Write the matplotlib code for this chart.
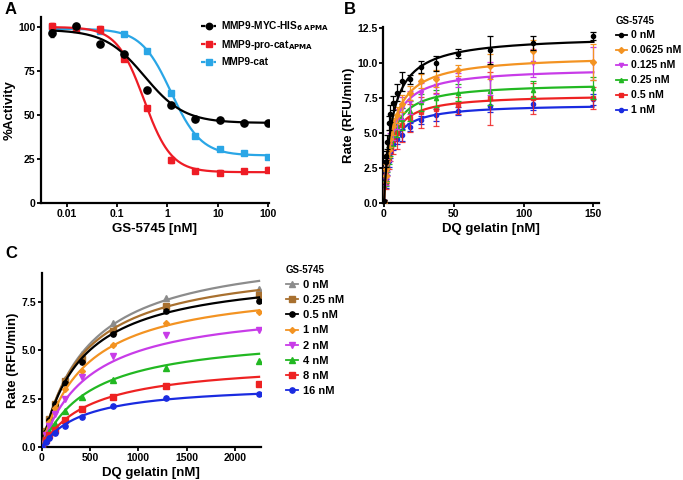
import numpy as np
import matplotlib
matplotlib.use("Agg")
import matplotlib.pyplot as plt
from matplotlib.lines import Line2D

plt.rcParams['font.family'] = ['Liberation Sans', 'DejaVu Sans']
plt.rcParams['font.weight'] = 'bold'

# ---------------- Panel A data ----------------
A_x = [0.005, 0.015, 0.045, 0.135, 0.4, 1.2, 3.6, 11, 33, 100]
A_labels = ["MMP9-MYC-HIS$_{\\mathbf{6\\ APMA}}$", "MMP9-pro-cat$_{\\mathbf{APMA}}$", "MMP9-cat"]
A_black = [96.5, 100.4, 90.5, 84.6, 64.3, 55.6, 47.6, 47.4, 45.4, 45.5]
A_black_err = [2.0, 0.8, 0.8, 1.0, 1.0, 1.0, 0.8, 0.8, 0.8, 0.8]
A_red = [100.5, 99.0, 98.6, 81.6, 53.9, 24.5, 18.4, 17.1, 18.2, 18.8]
A_red_err = [1.8, 1.0, 1.8, 1.0, 1.2, 1.5, 1.2, 1.4, 1.0, 1.4]
A_blue = [100.0, 99.5, 98.0, 95.8, 86.5, 62.6, 38.1, 30.7, 28.5, 26.4]
A_blue_err = [0.5, 0.5, 0.5, 0.6, 0.8, 0.8, 0.8, 0.8, 0.8, 0.8]
# 4-parameter logistic fit parameters: top, bottom, IC50, hill
A_fit_black = [98.5, 45.5, 0.35, 1.1]
A_fit_red = [100.0, 17.5, 0.34, 1.6]
A_fit_blue = [99.0, 27.0, 1.18, 1.45]
A_xticks = [0.01, 0.1, 1, 10, 100]
A_xticklabels = ["0.01", "0.1", "1", "10", "100"]

# ---------------- Panel B data ----------------
B_x = [0, 1.17, 1.66, 2.34, 3.31, 4.69, 6.63, 9.38, 13.3, 18.8, 26.5, 37.5, 53, 76, 107, 150]
B_labels = ["0 nM", "0.0625 nM", "0.125 nM", "0.25 nM", "0.5 nM", "1 nM"]
B_black = [0.15, 2.9, 3.4, 4.4, 5.7, 6.4, 7.15, 7.9, 8.7, 8.85, 9.75, 10.0, 10.7, 10.95, 11.45, 11.95]
B_black_err = [0.1, 0.3, 0.3, 0.5, 0.5, 0.6, 0.5, 0.6, 0.65, 0.3, 0.45, 0.55, 0.35, 1.0, 0.5, 0.3]
B_orange = [0.1, 1.9, 2.4, 3.0, 3.8, 4.6, 5.5, 6.3, 7.1, 7.9, 8.7, 8.9, 9.5, 9.8, 10.9, 10.1]
B_orange_err = [0.1, 0.4, 0.4, 0.5, 0.5, 0.6, 0.6, 0.6, 0.6, 0.5, 0.5, 0.6, 0.4, 0.9, 0.8, 1.3]
B_magenta = [0.1, 1.7, 2.2, 2.8, 3.6, 4.4, 5.2, 6.0, 6.8, 7.2, 7.9, 8.4, 8.8, 8.9, 10.0, 10.0]
B_magenta_err = [0.1, 0.4, 0.4, 0.5, 0.6, 0.6, 0.7, 0.7, 0.8, 0.8, 0.7, 0.6, 0.5, 1.2, 1.0, 1.2]
B_green = [0.1, 1.6, 2.1, 2.7, 3.4, 4.1, 4.9, 5.5, 6.0, 6.6, 7.2, 7.5, 7.9, 8.04, 8.1, 8.25]
B_green_err = [0.1, 0.4, 0.5, 0.5, 0.6, 0.7, 0.8, 0.8, 0.8, 0.7, 0.6, 0.6, 0.6, 1.0, 0.6, 0.8]
B_red = [0.1, 1.5, 2.0, 2.6, 3.2, 3.9, 4.5, 5.0, 5.6, 6.1, 6.5, 6.7, 7.0, 7.5, 7.5, 7.5]
B_red_err = [0.1, 0.5, 0.6, 0.7, 0.8, 0.9, 1.0, 1.1, 1.2, 1.0, 1.1, 1.2, 0.6, 1.9, 1.1, 0.8]
B_blue = [0.15, 1.4, 1.9, 2.4, 3.0, 3.6, 4.2, 4.6, 4.87, 5.42, 5.94, 6.3, 6.58, 6.94, 7.07, 7.42]
B_blue_err = [0.1, 0.3, 0.3, 0.4, 0.4, 0.4, 0.4, 0.4, 0.4, 0.3, 0.3, 0.4, 0.3, 0.4, 0.4, 0.4]
# Michaelis-Menten fit parameters: Vmax, Km
B_fit = [[12.0, 6.0], [10.6, 6.3], [9.7, 5.5], [8.6, 5.0], [7.78, 4.7], [7.1, 4.6]]
B_xticks = [0, 50, 100, 150]
B_yticks = [0.0, 2.5, 5.0, 7.5, 10.0, 12.5]

# ---------------- Panel C data ----------------
C_x = [0, 45, 78, 137, 240, 420, 735, 1285, 2250]
C_labels = ["0 nM", "0.25 nM", "0.5 nM", "1 nM", "2 nM", "4 nM", "8 nM", "16 nM"]
C_gray = [0, 0.85, 1.45, 2.3, 3.5, 4.8, 6.4, 7.7, 8.15]
C_brown = [0, 0.85, 1.45, 2.25, 3.4, 4.55, 6.0, 7.3, 7.85]
C_black = [0, 0.8, 1.4, 2.2, 3.3, 4.4, 5.85, 7.05, 7.55]
C_orange = [0, 0.75, 1.3, 2.0, 3.0, 3.95, 5.3, 6.4, 7.0]
C_magenta = [0, 0.6, 1.1, 1.7, 2.5, 3.6, 4.7, 5.8, 6.05]
C_green = [0, 0.45, 0.8, 1.2, 1.85, 2.6, 3.45, 4.1, 4.45]
C_red = [0, 0.35, 0.6, 0.9, 1.4, 1.97, 2.6, 3.15, 3.28]
C_blue = [0, 0.25, 0.45, 0.72, 1.1, 1.57, 2.14, 2.52, 2.73]
C_fit = [[10.4, 474], [9.67, 430], [9.16, 413], [8.52, 461], [7.44, 502], [5.93, 517], [4.46, 515], [3.28, 432]]
C_xticks = [0, 500, 1000, 1500, 2000]
C_yticks = [0.0, 2.5, 5.0, 7.5]

# ---------------- styling ----------------
A_colors = ['#000000', '#EE1C25', '#2AA6E6']
B_colors = ['#000000', '#F39322', '#C83CE8', '#22B822', '#EE2222', '#1A2BE0']
B_markers = ['o', 'D', 'v', '^', 's', 'o']
C_colors = ['#8C8C8C', '#A8702F', '#000000', '#F39322', '#C83CE8', '#22B822', '#EE2222', '#1A2BE0']
C_markers = ['^', 's', 'o', 'D', 'v', '^', 's', 'o']

W, H = 683, 480
fig = plt.figure(figsize=(W / 100, H / 100), dpi=100)

def box(l, t, r, b):
    return [l / W, 1 - b / H, (r - l) / W, (b - t) / H]

def style_axes(ax):
    for s in ['top', 'right']:
        ax.spines[s].set_visible(False)
    for s in ['left', 'bottom']:
        ax.spines[s].set_linewidth(1.6)
    ax.tick_params(direction='out', length=3, width=1.3, labelsize=7.5, pad=1)
    for lab in ax.get_xticklabels() + ax.get_yticklabels():
        lab.set_fontweight('bold')

def logistic(x, p):
    top, bot, ic50, h = p
    return bot + (top - bot) / (1 + (x / ic50) ** h)

def mm(x, p):
    vmax, km = p
    return vmax * x / (km + x)

LABEL_FS = 9.5

# ---------------- Panel A ----------------
axA = fig.add_axes(box(41, 17, 269, 203))
xs = np.logspace(np.log10(0.005), np.log10(100), 300)
A_series = [(A_black, A_black_err, A_fit_black), (A_red, A_red_err, A_fit_red), (A_blue, A_blue_err, A_fit_blue)]
markersA = ['o', 's', 's']
sizesA = [5.2, 4.8, 4.3]
zorders = [5, 4, 3]
handlesA = []
for (ys, es, fp), c, m, ms, z in zip(A_series, A_colors, markersA, sizesA, zorders):
    axA.plot(xs, logistic(xs, fp), color=c, lw=1.6, zorder=z)
    axA.errorbar(A_x, ys, yerr=es, fmt=m, color=c, ms=ms, capsize=1.5, elinewidth=0.8, zorder=z)
    handlesA.append(Line2D([0], [0], color=c, marker=m, ms=ms - 0.6, lw=1.6, ls=(0, (2.0, 0.8))))
axA.set_xscale('log')
axA.set_xlim(0.00304, 105)
axA.set_ylim(0, 105.7)
axA.set_xticks(A_xticks)
axA.set_xticklabels(A_xticklabels)
axA.minorticks_off()
axA.set_yticks([0, 25, 50, 75, 100])
axA.set_xlabel("GS-5745 [nM]", fontsize=LABEL_FS, fontweight='bold', labelpad=3)
axA.set_ylabel("%Activity", fontsize=LABEL_FS, fontweight='bold', labelpad=2)
style_axes(axA)
fig.legend(handlesA, A_labels, loc='upper left', bbox_to_anchor=(192 / W, 1 - 10 / H),
           frameon=False, handlelength=1.5, handletextpad=0.45,
           labelspacing=0.5, prop={'weight': 'bold', 'size': 7.3})
fig.text(5 / W, 1 - 9 / H, "A", fontsize=12, fontweight='bold', va='center')

# ---------------- Panel B ----------------
axB = fig.add_axes(box(383.5, 27, 599, 203))
xsB = np.linspace(0, 150, 300)
B_series = [(B_black, B_black_err), (B_orange, B_orange_err), (B_magenta, B_magenta_err),
            (B_green, B_green_err), (B_red, B_red_err), (B_blue, B_blue_err)]
handlesB = []
for i, ((ys, es), c, m, fp) in enumerate(zip(B_series, B_colors, B_markers, B_fit)):
    z = 10 - i if i != 0 else 11
    axB.errorbar(B_x, ys, yerr=es, fmt=m, color=c, ms=3.0, capsize=2.2, elinewidth=0.9,
                 capthick=0.9, zorder=z, alpha=0.85 if i == 4 else 1)
    axB.plot(xsB, mm(xsB, fp), color=c, lw=1.6, zorder=z)
    handlesB.append(Line2D([0], [0], color=c, marker=m, ms=3.0, lw=1.3))
axB.set_xlim(-0.3, 154)
axB.set_ylim(0, 12.6)
axB.set_xticks(B_xticks)
axB.set_yticks(B_yticks)
axB.set_yticklabels([f"{v:.1f}" for v in B_yticks])
axB.set_xlabel("DQ gelatin [nM]", fontsize=LABEL_FS, fontweight='bold', labelpad=3)
axB.set_ylabel("Rate (RFU/min)", fontsize=LABEL_FS, fontweight='bold', labelpad=2)
style_axes(axB)
fig.legend(handlesB, B_labels, loc='upper left', bbox_to_anchor=(606 / W, 1 - 6 / H),
           frameon=False, title="GS-5745", alignment='left',
           title_fontproperties={'weight': 'bold', 'size': 7},
           handlelength=1.1, handletextpad=0.4, labelspacing=0.47,
           prop={'weight': 'bold', 'size': 7.6})
fig.text(344 / W, 1 - 9 / H, "B", fontsize=12, fontweight='bold', va='center')

# ---------------- Panel C ----------------
axC = fig.add_axes(box(41.7, 273, 261, 447))
xsC = np.linspace(0, 2250, 300)
C_series = [C_gray, C_brown, C_black, C_orange, C_magenta, C_green, C_red, C_blue]
handlesC = []
for i, (ys, c, m, fp) in enumerate(zip(C_series, C_colors, C_markers, C_fit)):
    ms = 3.0 if m == 'D' else 3.8
    axC.plot(xsC, mm(xsC, fp), color=c, lw=1.6, zorder=3 + i)
    axC.plot(C_x, ys, ls='none', marker=m, color=c, ms=ms, zorder=3 + i)
    handlesC.append(Line2D([0], [0], color=c, marker=m, ms=ms, lw=1.3))
axC.set_xlim(0, 2270)
axC.set_ylim(0, 9.0)
axC.set_xticks(C_xticks)
axC.set_yticks(C_yticks)
axC.set_yticklabels([f"{v:.1f}" for v in C_yticks])
axC.set_xlabel("DQ gelatin [nM]", fontsize=LABEL_FS, fontweight='bold', labelpad=3)
axC.set_ylabel("Rate (RFU/min)", fontsize=LABEL_FS, fontweight='bold', labelpad=2)
style_axes(axC)
fig.legend(handlesC, C_labels, loc='upper left', bbox_to_anchor=(276 / W, 1 - 255 / H),
           frameon=False, title="GS-5745", alignment='left',
           title_fontproperties={'weight': 'bold', 'size': 7},
           handlelength=1.1, handletextpad=0.45, labelspacing=0.46,
           prop={'weight': 'bold', 'size': 8})
fig.text(5 / W, 1 - 253 / H, "C", fontsize=12, fontweight='bold', va='center')

fig.savefig("out.png", dpi=100)
